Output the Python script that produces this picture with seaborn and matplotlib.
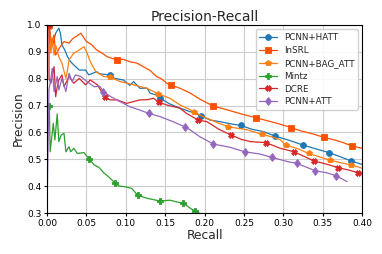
"""Precision-Recall curves for relation extraction models."""

import numpy as np
import matplotlib
matplotlib.use('Agg')
import matplotlib.pyplot as plt
import seaborn as sns


# Curve data (recall, precision)
hatt_recall = [0.002, 0.0067, 0.011, 0.015, 0.017, 0.019, 0.0225, 0.026, 0.030, 0.034, 0.041, 0.049,
               0.053, 0.063, 0.067, 0.080, 0.086, 0.097, 0.105, 0.110, 0.118, 0.127, 0.131, 0.139,
               0.1435, 0.156, 0.169, 0.182, 0.196, 0.207, 0.220, 0.233, 0.246, 0.260, 0.275, 0.289,
               0.306, 0.325, 0.340, 0.358, 0.372, 0.386, 0.400]
hatt_precision = [1.0, 0.919, 0.969, 0.988, 0.969, 0.926, 0.907, 0.882, 0.863, 0.851, 0.832, 0.832,
                  0.814, 0.826, 0.818, 0.814, 0.801, 0.795, 0.775, 0.789, 0.764, 0.765, 0.746, 0.739,
                  0.727, 0.706, 0.690, 0.677, 0.661, 0.646, 0.640, 0.632, 0.626, 0.612, 0.603, 0.587,
                  0.572, 0.553, 0.540, 0.525, 0.510, 0.494, 0.481]
hatt_marks = [0.002, 0.080, 0.1435, 0.196, 0.246, 0.289, 0.325, 0.358, 0.386]

insrl_recall = [0.003, 0.005, 0.009, 0.011, 0.016, 0.0216, 0.028, 0.033, 0.038, 0.043, 0.050, 0.056,
                0.063, 0.070, 0.076, 0.0885, 0.097, 0.105, 0.114, 0.122, 0.131, 0.139, 0.145, 0.152,
                0.157, 0.169, 0.182, 0.194, 0.211, 0.224, 0.237, 0.250, 0.265, 0.279, 0.292, 0.310,
                0.322, 0.337, 0.351, 0.365, 0.376, 0.387, 0.400]
insrl_precision = [1.0, 0.93, 0.963, 0.888, 0.915, 0.938, 0.932, 0.95, 0.959, 0.969, 0.938, 0.928,
                   0.907, 0.895, 0.882, 0.870, 0.872, 0.863, 0.858, 0.845, 0.830, 0.808, 0.800, 0.783,
                   0.777, 0.764, 0.746, 0.724, 0.698, 0.688, 0.677, 0.666, 0.655, 0.644, 0.634, 0.618,
                   0.606, 0.595, 0.582, 0.572, 0.562, 0.550, 0.541]
insrl_marks = [0.003, 0.0885, 0.157, 0.211, 0.265, 0.310, 0.351, 0.387]

bag_recall = [0.0025, 0.005, 0.0067, 0.009, 0.011, 0.015, 0.019, 0.024, 0.026, 0.028, 0.034, 0.040,
              0.047, 0.051, 0.055, 0.062, 0.072, 0.080, 0.093, 0.110, 0.127, 0.141, 0.156, 0.169,
              0.182, 0.187, 0.194, 0.203, 0.215, 0.230, 0.241, 0.254, 0.273, 0.286, 0.296, 0.303,
              0.318, 0.332, 0.345, 0.359, 0.372, 0.386, 0.400]
bag_precision = [0.994, 0.895, 0.944, 0.888, 0.925, 0.882, 0.857, 0.801, 0.832, 0.870, 0.895, 0.905,
                 0.919, 0.895, 0.863, 0.826, 0.808, 0.806, 0.789, 0.777, 0.764, 0.744, 0.727, 0.702,
                 0.684, 0.676, 0.665, 0.653, 0.638, 0.621, 0.616, 0.610, 0.593, 0.583, 0.573, 0.553,
                 0.540, 0.522, 0.510, 0.497, 0.488, 0.479, 0.467]
bag_marks = [0.0025, 0.080, 0.141, 0.187, 0.230, 0.273, 0.303, 0.332, 0.359, 0.386]

mintz_recall = [0.003, 0.004, 0.008, 0.010, 0.013, 0.015, 0.018, 0.0216, 0.024, 0.028, 0.030, 0.034,
                0.0385, 0.047, 0.053, 0.060, 0.066, 0.072, 0.079, 0.086, 0.091, 0.099, 0.1075, 0.115,
                0.127, 0.1435, 0.156, 0.173, 0.184, 0.188, 0.195]
mintz_precision = [0.700, 0.528, 0.634, 0.572, 0.669, 0.566, 0.590, 0.597, 0.528, 0.547, 0.528, 0.541,
                   0.522, 0.525, 0.503, 0.479, 0.470, 0.450, 0.433, 0.413, 0.401, 0.398, 0.392, 0.367,
                   0.355, 0.345, 0.348, 0.336, 0.314, 0.309, 0.296]
mintz_marks = [0.003, 0.053, 0.086, 0.115, 0.1435, 0.173, 0.188]

dcre_recall = [0.0025, 0.0026, 0.005, 0.009, 0.011, 0.013, 0.015, 0.019, 0.0216, 0.028, 0.034, 0.041,
               0.049, 0.055, 0.064, 0.0737, 0.080, 0.089, 0.101, 0.110, 0.118, 0.128, 0.135, 0.142,
               0.152, 0.169, 0.177, 0.192, 0.203, 0.218, 0.234, 0.247, 0.258, 0.278, 0.296, 0.314,
               0.327, 0.339, 0.355, 0.370, 0.383, 0.395, 0.400]
dcre_precision = [1.0, 0.80, 0.783, 0.845, 0.733, 0.770, 0.795, 0.814, 0.770, 0.808, 0.783, 0.801,
                  0.777, 0.795, 0.777, 0.730, 0.721, 0.721, 0.708, 0.715, 0.721, 0.722, 0.727, 0.713,
                  0.702, 0.690, 0.671, 0.646, 0.640, 0.612, 0.590, 0.574, 0.566, 0.562, 0.541, 0.528,
                  0.510, 0.494, 0.482, 0.469, 0.460, 0.450, 0.447]
dcre_marks = [0.0025, 0.0737, 0.142, 0.192, 0.234, 0.278, 0.314, 0.339, 0.370, 0.395]

att_recall = [0.0, 0.0025, 0.005, 0.0067, 0.009, 0.013, 0.015, 0.019, 0.024, 0.028, 0.032, 0.036,
              0.043, 0.051, 0.060, 0.067, 0.0715, 0.080, 0.0885, 0.105, 0.118, 0.129, 0.1435, 0.160,
              0.175, 0.182, 0.194, 0.211, 0.232, 0.251, 0.270, 0.286, 0.306, 0.317, 0.330, 0.340,
              0.355, 0.367, 0.381]
att_precision = [0.30, 0.758, 0.801, 0.839, 0.752, 0.808, 0.758, 0.801, 0.752, 0.820, 0.789, 0.814,
                 0.808, 0.789, 0.770, 0.772, 0.752, 0.735, 0.721, 0.696, 0.683, 0.671, 0.659, 0.640,
                 0.621, 0.609, 0.584, 0.557, 0.545, 0.528, 0.520, 0.507, 0.491, 0.485, 0.470, 0.458,
                 0.450, 0.439, 0.417]
att_marks = [0.0715, 0.129, 0.175, 0.211, 0.251, 0.286, 0.317, 0.340, 0.367]

x_ticks = [0.00, 0.05, 0.10, 0.15, 0.20, 0.25, 0.30, 0.35, 0.40]
y_ticks = [0.3, 0.4, 0.5, 0.6, 0.7, 0.8, 0.9, 1.0]

MODELS = [
    ('PCNN+HATT', hatt_recall, hatt_precision, hatt_marks, '#1f77b4', 'o', 4.2),
    ('InSRL', insrl_recall, insrl_precision, insrl_marks, '#ff4f00', 's', 4.2),
    ('PCNN+BAG_ATT', bag_recall, bag_precision, bag_marks, '#ff7f0e', 'p', 4.2),
    ('Mintz', mintz_recall, mintz_precision, mintz_marks, '#2ca02c', 'P', 4.2),
    ('DCRE', dcre_recall, dcre_precision, dcre_marks, '#d62728', 'X', 4.2),
    ('PCNN+ATT', att_recall, att_precision, att_marks, '#9467bd', 'd', 4.5),
]


def setup_style():
    sns.set_style('whitegrid', {
        'axes.edgecolor': 'black',
        'grid.color': '#cccccc',
        'xtick.bottom': True,
        'ytick.left': True,
    })
    plt.rcParams.update({
        'font.family': ['DejaVu Sans'],
        'axes.linewidth': 0.8,
        'xtick.major.size': 2.5,
        'ytick.major.size': 2.5,
        'xtick.color': 'black',
        'ytick.color': 'black',
    })


def plot_pr_curves(save_path):
    setup_style()
    fig, ax = plt.subplots(figsize=(3.82, 2.54), dpi=100)
    fig.subplots_adjust(left=0.123, right=0.948, top=0.902, bottom=0.161)

    for name, rec, prec, marks, color, marker, ms in MODELS:
        rec = np.asarray(rec)
        idx = [int(np.argmin(np.abs(rec - m))) for m in marks]
        sns.lineplot(x=rec, y=prec, sort=False, estimator=None, color=color,
                     marker=marker, markevery=idx, markersize=ms, markeredgewidth=0.6,
                     markeredgecolor=color, linewidth=0.9, label=name, ax=ax)

    ax.set_xlim(0.0, 0.4)
    ax.set_ylim(0.3, 1.0)
    ax.set_xticks(x_ticks)
    ax.set_xticklabels([f'{t:.2f}' for t in x_ticks])
    ax.set_yticks(y_ticks)
    ax.set_yticklabels([f'{t:.1f}' for t in y_ticks])
    ax.tick_params(labelsize=6.5, pad=1.5)

    ax.set_title('Precision-Recall', fontsize=10, pad=3)
    ax.set_xlabel('Recall', fontsize=8.8, labelpad=1)
    ax.set_ylabel('Precision', fontsize=8.8, labelpad=2)

    ax.legend(loc='upper right', fontsize=6.3, frameon=True, framealpha=0.9,
              edgecolor='#cccccc', handlelength=2.0, borderpad=0.4, labelspacing=0.45)

    fig.savefig(save_path, dpi=100)
    return fig


if __name__ == '__main__':
    plot_pr_curves('out.png')
